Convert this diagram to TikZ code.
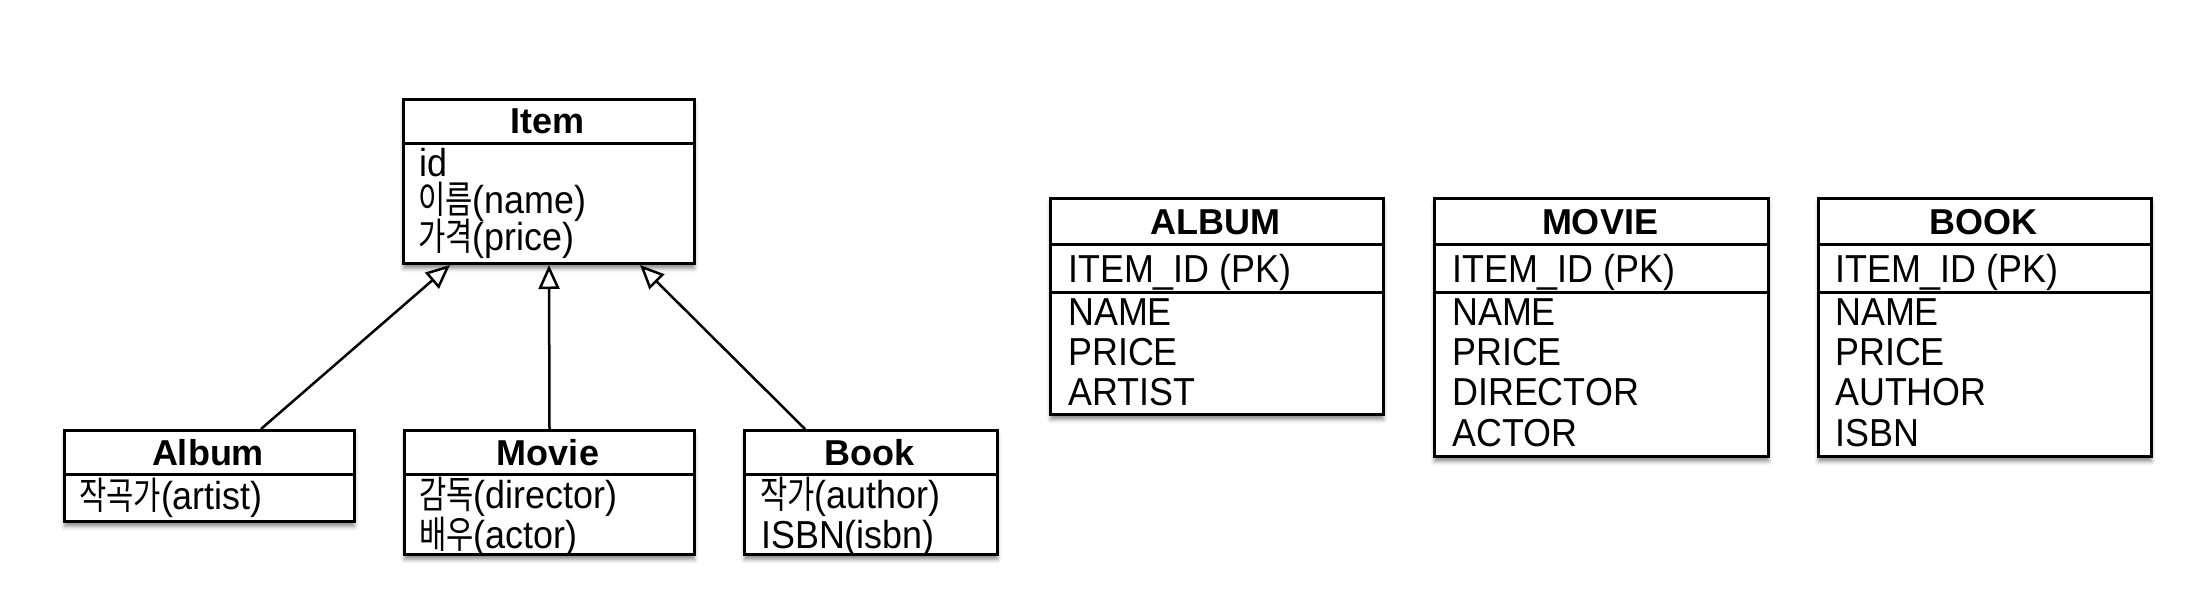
\documentclass[tikz,border=0pt]{standalone}
\usepackage{fontspec}
\setmainfont{Liberation Sans}
\newfontfamily\bodyf{Liberation Sans}[FakeStretch=0.92]
\newfontfamily\korf{Noto Sans CJK KR}[FakeStretch=0.78]
\usetikzlibrary{arrows.meta,shadows.blur}
\newcommand\bodysz{\bodyf\fontsize{39}{40}\selectfont}
\newcommand\hdrsz{\bfseries\fontsize{36}{38}\selectfont}
\newcommand\kor[1]{{\korf\fontsize{38}{38}\selectfont #1}}
\tikzset{
  box/.style={draw, line width=3pt, fill=white, anchor=north west, inner sep=0pt,
    blur shadow={shadow xshift=0pt, shadow yshift=-5pt, shadow blur radius=4pt, shadow opacity=45}},
  div/.style={line width=3pt},
  txt/.style={anchor=base west, inner sep=0pt, font=\bodysz},
  hdr/.style={anchor=base, inner sep=0pt, font=\hdrsz},
  inh/.style={line width=2.5pt, -{Triangle[open, length=24pt, width=21pt, fill=white]}}
}
\begin{document}
\begin{tikzpicture}[x=1pt, y=-1pt]
\useasboundingbox (0,0) rectangle (2212,614);

% ---------- class diagram ----------
\node[box, minimum width=291pt, minimum height=164pt] (item) at (402,98) {};
\draw[div] (item.west |- 0,143) -- (item.east |- 0,143);
\node[hdr] (itemh) at (547.5,133) {Item};
\node[txt] (it1) at (419,176) {id};
\node[txt] (it2) at (418,213) {\kor{이름}(name)};
\node[txt] (it3) at (418,250) {\kor{가격}(price)};

\node[box, minimum width=290pt, minimum height=91pt] (album) at (63,429) {};
\draw[div] (album.west |- 0,474) -- (album.east |- 0,474);
\node[hdr] (albumh) at (208,465) {Album};
\node[txt] (al1) at (79,509) {\kor{작곡가}(artist)};

\node[box, minimum width=290pt, minimum height=124pt] (movie) at (403,429) {};
\draw[div] (movie.west |- 0,474) -- (movie.east |- 0,474);
\node[hdr] (movieh) at (548,465) {Movie};
\node[txt] (mv1) at (419,508) {\kor{감독}(director)};
\node[txt] (mv2) at (419,548) {\kor{배우}(actor)};

\node[box, minimum width=253pt, minimum height=124pt] (book) at (743,429) {};
\draw[div] (book.west |- 0,474) -- (book.east |- 0,474);
\node[hdr] (bookh) at (869.5,465) {Book};
\node[txt] (bk1) at (760,508) {\kor{작가}(author)};
\node[txt] (bk2) at (761,548) {ISBN(isbn)};

\draw[inh] ([xshift=198pt]album.north west) -- ([xshift=48pt]item.south west);
\draw[inh] (movie.north) -- (item.south);
\draw[inh] ([xshift=62pt]book.north west) -- ([xshift=-56pt]item.south east);

% ---------- tables ----------
\node[box, minimum width=333pt, minimum height=216pt] (talbum) at (1049,197) {};
\draw[div] (talbum.west |- 0,244) -- (talbum.east |- 0,244);
\draw[div] (talbum.west |- 0,292) -- (talbum.east |- 0,292);
\node[hdr] (talbumh) at (1215.5,234) {ALBUM};
\node[txt] (ta1) at (1068,282) {ITEM\_ID (PK)};
\node[txt] (ta2) at (1068,325) {NAME};
\node[txt] (ta3) at (1068,365) {PRICE};
\node[txt] (ta4) at (1068,405) {ARTIST};

\node[box, minimum width=334pt, minimum height=258pt] (tmovie) at (1433,197) {};
\draw[div] (tmovie.west |- 0,244) -- (tmovie.east |- 0,244);
\draw[div] (tmovie.west |- 0,292) -- (tmovie.east |- 0,292);
\node[hdr] (tmovieh) at (1600,234) {MOVIE};
\node[txt] (tm1) at (1452,282) {ITEM\_ID (PK)};
\node[txt] (tm2) at (1452,325) {NAME};
\node[txt] (tm3) at (1452,365) {PRICE};
\node[txt] (tm4) at (1452,405) {DIRECTOR};
\node[txt] (tm5) at (1452,446) {ACTOR};

\node[box, minimum width=333pt, minimum height=258pt] (tbook) at (1817,197) {};
\draw[div] (tbook.west |- 0,244) -- (tbook.east |- 0,244);
\draw[div] (tbook.west |- 0,292) -- (tbook.east |- 0,292);
\node[hdr] (tbookh) at (1983.5,234) {BOOK};
\node[txt] (tb1) at (1835,282) {ITEM\_ID (PK)};
\node[txt] (tb2) at (1835,325) {NAME};
\node[txt] (tb3) at (1835,365) {PRICE};
\node[txt] (tb4) at (1835,405) {AUTHOR};
\node[txt] (tb5) at (1835,446) {ISBN};
\end{tikzpicture}
\end{document}
